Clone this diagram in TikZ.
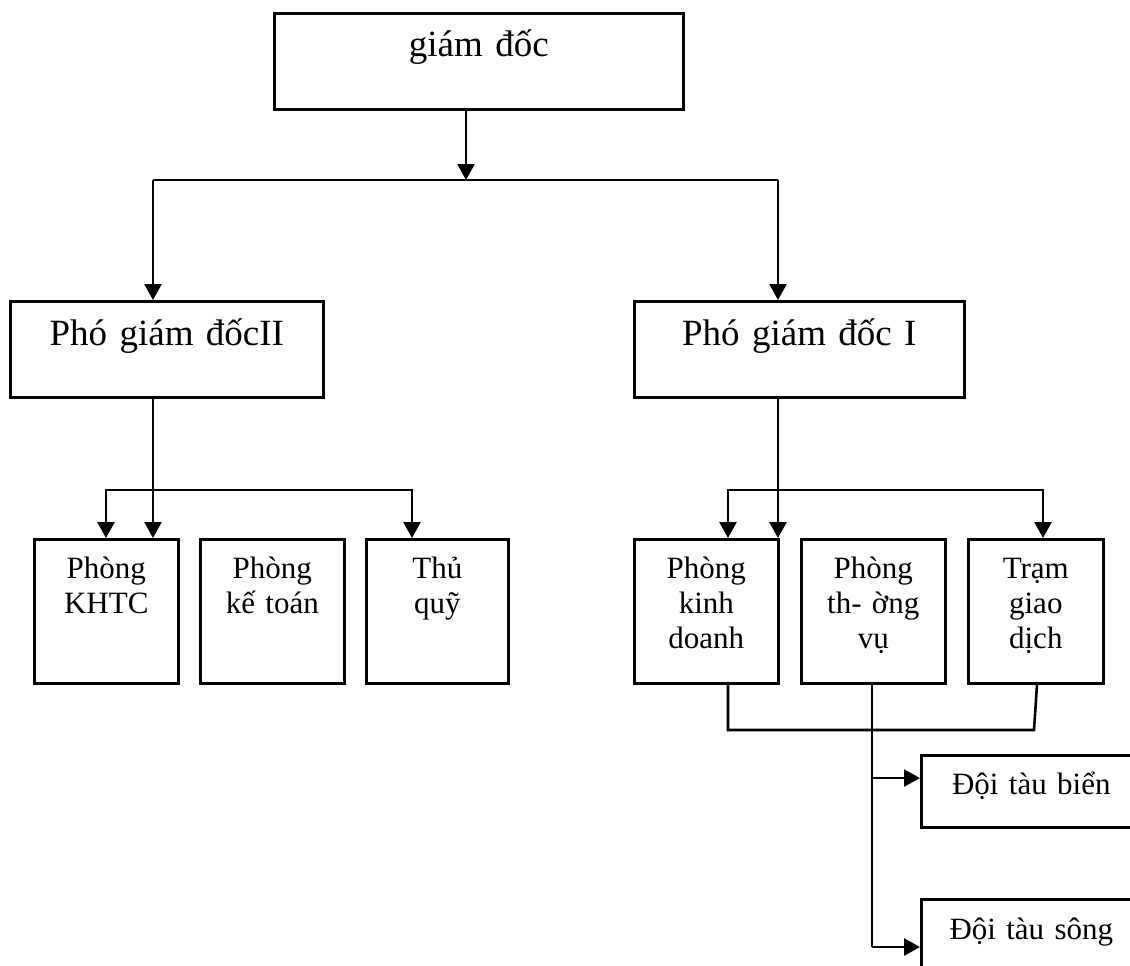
\documentclass[tikz,border=0pt]{standalone}
\usepackage{fontspec}
\setmainfont{Liberation Serif}
\usetikzlibrary{arrows.meta}
\begin{document}
\begin{tikzpicture}[x=0.5pt,y=-0.5pt,
    bx/.style={draw,line width=1.3pt,inner sep=0pt,anchor=north west,align=center},
    big/.style={bx,font=\fontsize{18.5}{21}\selectfont,text height=22pt,text depth=26pt},
    sml/.style={bx,font=\fontsize{15.5}{17.5}\selectfont,text width=72pt,text height=19.5pt,text depth=52.5pt},
    doi/.style={bx,font=\fontsize{15.5}{17.5}\selectfont,text width=110pt,text height=19.5pt,text depth=16.5pt},
    wire/.style={line width=1.3pt},
    arr/.style={wire,-{Triangle[length=8pt,width=8.5pt]}},
    arrs/.style={wire,{Triangle[length=8pt,width=8.5pt]}-{Triangle[length=8pt,width=8.5pt]}}]
  \path[use as bounding box,clip] (0,0) rectangle (1130,965);
  % top levels
  \node[big,text width=204.5pt,text height=21.5pt,text depth=26.5pt] (gd) at (273,12) {giám đốc};
  \node[big,text width=156.5pt] (pgd2) at (9,300) {Phó giám đốcII};
  \node[big,text width=165pt] (pgd1) at (633,300) {Phó giám đốc I};
  % departments
  \node[sml] (khtc) at (33,538) {Phòng\\KHTC};
  \node[sml] (kt) at (199,538) {Phòng\\kế toán};
  \node[sml,text width=71pt] (quy) at (365,538) {Thủ\\quỹ};
  \node[sml] (kd) at (633,538) {Phòng\\kinh\\doanh};
  \node[sml] (tv) at (800,538) {Phòng\\th- ờng\\vụ};
  \node[sml,text width=67.5pt] (tram) at (967,538) {Trạm\\giao\\dịch};
  \node[doi] (bien) at (920,754) {Đội tàu biển};
  \node[doi,text height=20pt,text depth=16pt] (song) at (920,898) {Đội tàu sông};
  % connectors
  \coordinate (a) at (466,180);
  \coordinate (bl) at (153,180);
  \coordinate (br) at (778,180);
  \draw[arr] (gd.south -| a) -- (a);
  \draw[wire] (bl) -- (br);
  \draw[arr] (bl) -- (bl |- pgd2.north);
  \draw[arr] (br) -- (br |- pgd1.north);
  \draw[arr] (bl |- pgd2.south) -- (bl |- khtc.north);
  \draw[arr] (br |- pgd1.south) -- (br |- kd.north);
  \coordinate (l1) at (106,490);
  \coordinate (l2) at (412,490);
  \draw[arrs] (l1 |- khtc.north) -- (l1) -- (l2) -- (l2 |- quy.north);
  \coordinate (r1) at (728,490);
  \coordinate (r2) at (1043,490);
  \draw[arrs] (r1 |- kd.north) -- (r1) -- (r2) -- (r2 |- tram.north);
  \coordinate (j1) at (728,730);
  \coordinate (j2) at (1034,730);
  \draw[wire] (j1 |- kd.south) -- (j1) -- (j2) -- ([xshift=1.5pt]j2 |- tram.south);
  \coordinate (t1) at (872,778);
  \coordinate (t2) at (872,947);
  \draw[wire] (t2 |- tv.south) -- (t2);
  \draw[arr] (t1) -- (t1 -| bien.west);
  \draw[arr] (t2) -- (t2 -| song.west);
\end{tikzpicture}
\end{document}
